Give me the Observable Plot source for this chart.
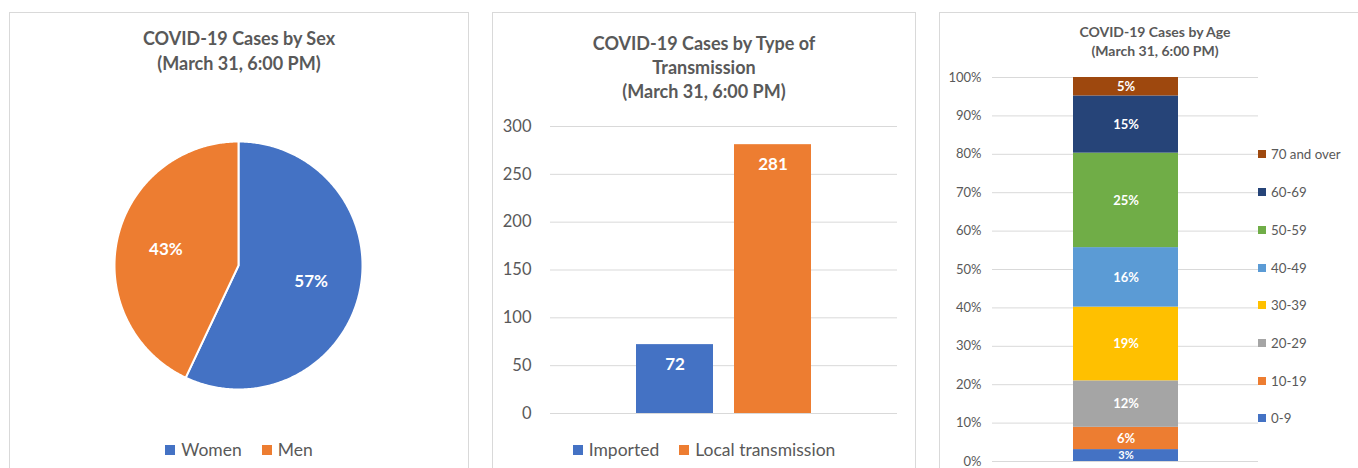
<!DOCTYPE html>
<html><head><meta charset="utf-8">
<script src="https://cdn.jsdelivr.net/npm/d3@7"></script>
<script src="https://cdn.jsdelivr.net/npm/@observablehq/plot@0.6"></script>
<style>
body{margin:0;background:#fff;font-family:Lato,"Open Sans",sans-serif;width:1358px;height:468px;overflow:hidden;position:relative}
.panel{position:absolute;top:12px;height:470px;border:1px solid #d9d9d9;box-sizing:border-box;background:#fff}
.title{position:absolute;left:0;right:0;text-align:center;font-weight:bold;color:#595959}
.chart{position:absolute;left:0}
.legend{position:absolute;left:0;right:0;display:flex;justify-content:center;color:#595959;font-size:17.5px;line-height:20px}
.legend .item{display:flex;align-items:center;margin:0 10px}
.legend .sw{width:10px;height:10px;margin-right:6px}
.vlegend{position:absolute;color:#595959;font-size:13.3px}
.vlegend .item{display:flex;align-items:center;height:37.7px}
.vlegend .sw{width:8px;height:8px;margin-right:5px}
</style></head>
<body>
<div class="panel" id="p1" style="left:9px;width:460px">
  <div class="title" style="top:13px;font-size:18px;line-height:25px">COVID-19 Cases by Sex<br>(March 31, 6:00 PM)</div>
  <div class="chart" id="c1" style="top:127px"></div>
  <div class="legend" id="l1" style="top:427px"></div>
</div>
<div class="panel" id="p2" style="left:492px;width:424px">
  <div class="title" style="top:18px;font-size:18px;line-height:24px">COVID-19 Cases by Type of<br>Transmission<br>(March 31, 6:00 PM)</div>
  <div class="chart" id="c2" style="top:87px"></div>
  <div class="legend" id="l2" style="top:427px"></div>
</div>
<div class="panel" id="p3" style="left:939px;width:432px">
  <div class="title" style="top:9px;font-size:14px;line-height:19px">COVID-19 Cases by Age<br>(March 31, 6:00 PM)</div>
  <div class="chart" id="c3" style="top:47px"></div>
  <div class="vlegend" id="l3" style="left:318px;top:122.6px"></div>
</div>
<script>
// ---- Data ----
const sexLabels = ["Women", "Men"];
const sexValues = [57, 43];
const sexColors = ["#4472C4", "#ED7D31"];

const transCategories = ["Imported", "Local transmission"];
const transValues = [72, 281];
const transColors = ["#4472C4", "#ED7D31"];
const transTicks = [0, 50, 100, 150, 200, 250, 300];

const ageGroups = ["0-9", "10-19", "20-29", "30-39", "40-49", "50-59", "60-69", "70 and over"];
const ageValues = [3.1, 5.8, 12.1, 19.2, 15.5, 24.6, 14.9, 4.8];
const ageColors = ["#4472C4", "#ED7D31", "#A5A5A5", "#FFC000", "#5B9BD5", "#70AD47", "#264478", "#9E480E"];
const ageTicks = [0, 10, 20, 30, 40, 50, 60, 70, 80, 90, 100];

const font = "Lato, 'Open Sans', sans-serif";

// ---- Pie: Sex ----
const arcs = d3.pie().sort(null)(sexValues);
const piePts = [];
arcs.forEach((a) => {
  const name = sexLabels[a.index];
  piePts.push({name, x: 0, y: 0});
  const n = Math.ceil((a.endAngle - a.startAngle) / 0.01);
  for (let k = 0; k <= n; k++) {
    const ang = a.startAngle + (a.endAngle - a.startAngle) * k / n;
    piePts.push({name, x: Math.sin(ang), y: Math.cos(ang)});
  }
});
const mid = a => (a.startAngle + a.endAngle) / 2;
const pie = Plot.plot({
  width: 458, height: 250,
  marginLeft: 104, marginRight: 106, marginTop: 1, marginBottom: 1,
  style: {fontFamily: font, background: "transparent"},
  x: {domain: [-1, 1], axis: null},
  y: {domain: [-1, 1], axis: null},
  color: {domain: sexLabels, range: sexColors},
  marks: [
    Plot.line(piePts, {x: "x", y: "y", z: "name", fill: "name", stroke: "white", strokeWidth: 2, curve: "linear-closed"}),
    Plot.text(arcs, {x: a => 0.6 * Math.sin(mid(a)), y: a => 0.6 * Math.cos(mid(a)), text: a => sexValues[a.index] + "%", fill: "white", fontWeight: "bold", fontSize: 17})
  ]
});
document.getElementById("c1").appendChild(pie);
document.getElementById("l1").innerHTML = sexLabels.map((s, i) =>
  `<div class="item"><div class="sw" style="background:${sexColors[i]}"></div>${s}</div>`).join("");

// ---- Bars: Transmission ----
const transData = transCategories.map((c, i) => ({cat: c, value: transValues[i]}));
const bars = Plot.plot({
  width: 422, height: 330,
  marginLeft: 57, marginRight: 18, marginTop: 26, marginBottom: 17,
  style: {fontFamily: font, color: "#595959", background: "transparent"},
  x: {domain: transCategories, range: [142.7, 317.7], paddingInner: 0.215, paddingOuter: 0, axis: null},
  y: {domain: [0, 300], label: null},
  color: {domain: transCategories, range: transColors},
  marks: [
    Plot.ruleY(transTicks, {stroke: "#d9d9d9"}),
    Plot.axisY({ticks: transTicks, tickSize: 0, tickPadding: 19, fontSize: 16.5, label: null}),
    Plot.barY(transData, {x: "cat", y: "value", fill: "cat"}),
    Plot.text(transData, {x: "cat", y: "value", text: d => String(d.value), dy: 20, fill: "white", fontWeight: "bold", fontSize: 17})
  ]
});
document.getElementById("c2").appendChild(bars);
document.getElementById("l2").innerHTML = transCategories.map((s, i) =>
  `<div class="item"><div class="sw" style="background:${transColors[i]}"></div>${s}</div>`).join("");

// ---- Stacked bar: Age ----
const ageData = ageGroups.map((g, i) => ({age: g, value: ageValues[i]}));
const stack = Plot.plot({
  width: 418, height: 408,
  marginLeft: 52, marginRight: 100, marginTop: 17, marginBottom: 7,
  style: {fontFamily: font, color: "#595959", background: "transparent"},
  x: {domain: ["All"], range: [132.7, 237.7], padding: 0, axis: null},
  y: {domain: [0, 100], label: null},
  color: {domain: ageGroups, range: ageColors},
  marks: [
    Plot.ruleY(ageTicks, {stroke: "#d9d9d9"}),
    Plot.axisY({ticks: ageTicks, tickFormat: d => d + "%", tickSize: 0, tickPadding: 11, fontSize: 13, label: null}),
    Plot.barY(ageData, {x: () => "All", y: "value", fill: "age"}),
    Plot.text(ageData, Plot.stackY({x: () => "All", y: "value", text: d => Math.round(d.value) + "%", fill: "white", fontWeight: "bold", fontSize: d => d.value < 4 ? 11 : 13}))
  ]
});
document.getElementById("c3").appendChild(stack);
document.getElementById("l3").innerHTML = ageGroups.slice().reverse().map(g =>
  `<div class="item"><div class="sw" style="background:${ageColors[ageGroups.indexOf(g)]}"></div>${g}</div>`).join("");
</script>
</body></html>
